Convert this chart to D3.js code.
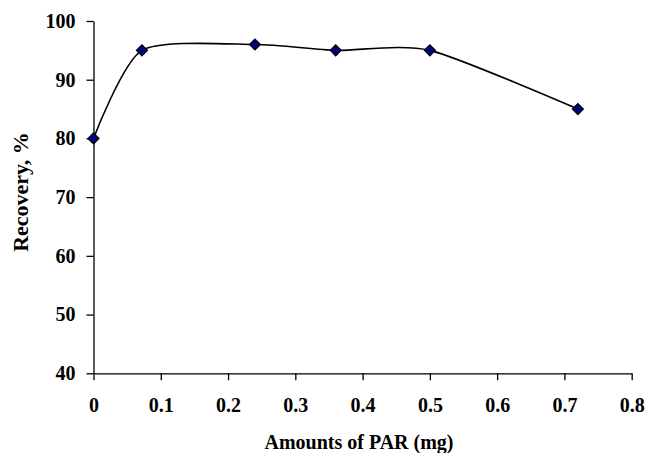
<!DOCTYPE html>
<html lang="en">

<head>
    <meta charset="UTF-8">
    <title>Recovery vs amounts of PAR</title>
    <style type="text/css">
        body {
            margin: 0;
            padding: 0;
            background-color: #ffffff;
        }
    </style>
</head>

<body>
    <script src="https://d3js.org/d3.v7.min.js"></script>
    <script type="text/javascript">
        // data
        var parAmounts = [0, 0.072, 0.24, 0.36, 0.5, 0.72];
        var recovery = [80, 95, 96, 95, 95, 85];
        var xTicks = [0, 0.1, 0.2, 0.3, 0.4, 0.5, 0.6, 0.7, 0.8];
        var yTicks = [40, 50, 60, 70, 80, 90, 100];

        var width = 648,
            height = 453;
        var serif = "'Liberation Serif', 'Times New Roman', Times, serif";

        var x = d3.scaleLinear().domain([0, 0.8]).range([93.5, 631.7]);
        var y = d3.scaleLinear().domain([40, 100]).range([373.3, 21]);

        var svg = d3.select("body").append("svg")
            .attr("width", width)
            .attr("height", height);

        svg.append("g")
            .attr("transform", "translate(" + x(0) + ",0)")
            .call(d3.axisLeft(y).tickValues(yTicks).tickSize(7).tickSizeOuter(0).tickPadding(11)
                .tickFormat(d3.format("d")));

        svg.append("g")
            .attr("transform", "translate(0," + y(40) + ")")
            .call(d3.axisBottom(x).tickValues(xTicks).tickSize(7).tickSizeOuter(0).tickPadding(18)
                .tickFormat(function (d) { return d === 0 ? "0" : d3.format(".1f")(d); }));

        svg.selectAll("g").attr("font-family", serif).attr("font-size", 20).attr("font-weight", "bold");
        svg.selectAll(".tick text").attr("fill", "#000");
        svg.selectAll(".domain, .tick line")
            .attr("stroke", "#000")
            .attr("stroke-width", 1.3);

        var points = parAmounts.map(function (d, i) { return [d, recovery[i]]; });

        // smoothed line like the spreadsheet one
        var line = d3.line()
            .x(function (d) { return x(d[0]); })
            .y(function (d) { return y(d[1]); })
            .curve(d3.curveCardinal.tension(0.3));

        svg.append("path")
            .datum(points)
            .attr("fill", "none")
            .attr("stroke", "#000")
            .attr("stroke-width", 1.6)
            .attr("d", line);

        svg.selectAll(".mark")
            .data(points)
            .enter().append("path")
            .attr("class", "mark")
            .attr("d", d3.symbol().type(d3.symbolSquare).size(60))
            .attr("transform", function (d) { return "translate(" + x(d[0]) + "," + y(d[1]) + ") rotate(45)"; })
            .attr("fill", "#000080")
            .attr("stroke", "#000")
            .attr("stroke-width", 1.2);

        svg.append("text")
            .attr("x", 359)
            .attr("y", 449)
            .attr("text-anchor", "middle")
            .attr("font-family", serif)
            .attr("font-weight", "bold")
            .attr("font-size", 20)
            .text("Amounts of PAR (mg)");

        svg.append("text")
            .attr("transform", "translate(28,192) rotate(-90)")
            .attr("text-anchor", "middle")
            .attr("font-family", serif)
            .attr("font-weight", "bold")
            .attr("font-size", 22)
            .text("Recovery, %");
    </script>
</body>

</html>
